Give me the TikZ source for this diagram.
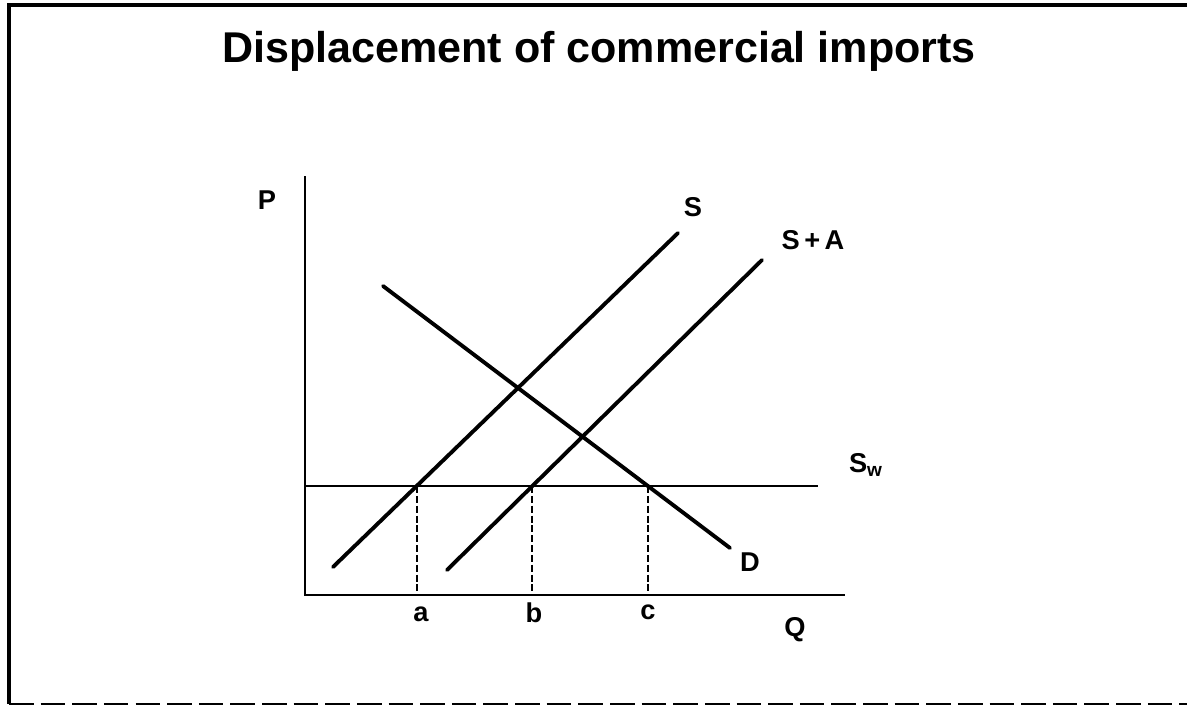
\documentclass[tikz,border=0pt]{standalone}
\usepackage{fontspec}
\setmainfont{Liberation Sans}
\begin{document}
\begin{tikzpicture}[
    every node/.style={font=\fontsize{15.5}{18}\selectfont\bfseries},
    ttl/.style={font=\fontsize{24.5}{28}\selectfont\bfseries, anchor=base},
    ax/.style={line width=1.6pt},
    crv/.style={line width=2.2pt, line cap=round},
    drop/.style={line width=1.1pt, dash pattern=on 4pt off 1.6pt},
    frm/.style={line width=2pt},
  ]
  \useasboundingbox (0,0) rectangle (23.74,14.16);
  % frame
  \draw[frm] (23.74,14.06) -- (0.18,14.06) -- (0.18,0.08);
  \draw[frm, line width=1.4pt, dash pattern=on 14pt off 4pt] (0.18,0.08) -- (23.74,0.08);

  \node[ttl] (title) at (11.98,12.90) {Displacement of commercial imports};

  % axes
  \coordinate (O) at (6.10,2.26);
  \coordinate (ytop) at (6.10,10.64);
  \coordinate (xend) at (16.90,2.26);
  \draw[ax] (ytop) -- (O) -- (xend);

  % world supply
  \coordinate (w0) at (6.10,4.44);
  \coordinate (w1) at (16.36,4.44);
  \draw[ax] (w0) -- (w1);

  % supply, supply plus aid, demand
  \coordinate (s0) at (6.66,2.82);
  \coordinate (s1) at (13.56,9.50);
  \coordinate (sa0) at (8.94,2.76);
  \coordinate (sa1) at (15.24,8.96);
  \coordinate (d0) at (7.66,8.44);
  \coordinate (d1) at (14.60,3.20);
  \draw[crv] (s0) -- (s1);
  \draw[crv] (sa0) -- (sa1);
  \draw[crv] (d0) -- (d1);

  % drop lines to the Q axis
  \coordinate (ia) at (intersection of s0--s1 and w0--w1);
  \coordinate (ib) at (intersection of sa0--sa1 and w0--w1);
  \coordinate (ic) at (intersection of d0--d1 and w0--w1);
  \draw[drop] (ia) -- (ia |- O);
  \draw[drop] (ib) -- (ib |- O);
  \draw[drop] (ic) -- (ic |- O);

  % labels
  \node (lp) at (5.34,10.16) {P};
  \node (lq) at (15.90,1.56) {Q};
  \node (ls) at (13.86,10.02) {S};
  \node (lsa) at (16.26,9.36) {S\,+\,A};
  \node (lsw) at (17.32,4.86) {S\textsubscript{w}};
  \node (ld) at (15.00,2.92) {D};
  \node (la) at (8.42,1.88) {a};
  \node (lb) at (10.68,1.90) {b};
  \node (lc) at (12.96,1.92) {c};
\end{tikzpicture}
\end{document}
